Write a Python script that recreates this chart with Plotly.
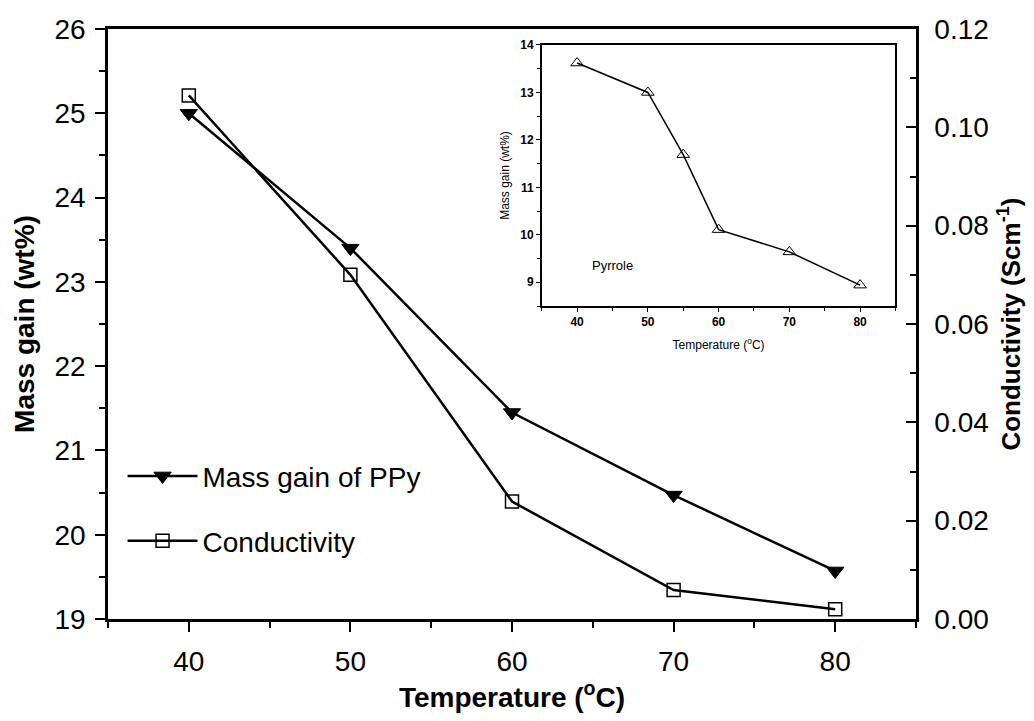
import plotly.graph_objects as go

temperature = [40, 50, 60, 70, 80]
mass_gain_ppy = [25.0, 23.4, 21.45, 20.47, 19.57]
conductivity = [0.1065, 0.070, 0.0239, 0.0059, 0.0020]

inset_temperature = [40, 50, 55, 60, 70, 80]
inset_mass_gain = [13.62, 13.0, 11.69, 10.11, 9.64, 8.94]

FONT = "Liberation Sans, Arial, sans-serif"

fig = go.Figure()

fig.add_trace(go.Scatter(
    x=temperature, y=mass_gain_ppy, mode="lines+markers",
    name="Mass gain of PPy",
    line=dict(color="black", width=2.5),
    marker=dict(symbol="triangle-down", size=15, color="black",
                line=dict(color="black", width=1)),
    xaxis="x", yaxis="y", legend="legend",
))
fig.add_trace(go.Scatter(
    x=temperature, y=conductivity, mode="lines+markers",
    name="Conductivity",
    line=dict(color="black", width=2.5),
    marker=dict(symbol="square-open", size=13, color="black",
                line=dict(color="black", width=1.5)),
    xaxis="x", yaxis="y2", legend="legend2",
))
fig.add_trace(go.Scatter(
    x=inset_temperature, y=inset_mass_gain, mode="lines+markers",
    name="Pyrrole", showlegend=False,
    line=dict(color="black", width=1.5),
    marker=dict(symbol="triangle-up-open", size=11, color="black",
                line=dict(color="black", width=1)),
    xaxis="x3", yaxis="y3",
))

main_font = dict(family=FONT, size=28, color="black")
title_font = dict(family=FONT, size=28, color="black", weight="bold")
right_title_font = dict(family=FONT, size=26, color="black", weight="bold")
inset_font = dict(family=FONT, size=12, color="black")
inset_tick_font = dict(family=FONT, size=12, color="black", weight="bold")

fig.update_layout(
    width=1034, height=721,
    margin=dict(l=108, r=118, t=29, b=102),
    paper_bgcolor="white", plot_bgcolor="white",
    font=main_font,
    xaxis=dict(
        range=[35, 85], dtick=10, tick0=40,
        showgrid=False, zeroline=False,
        showline=True, linecolor="black", linewidth=2.5, mirror=True,
        ticks="outside", ticklen=10, tickwidth=2, tickcolor="black",
        minor=dict(dtick=5, ticks="outside", ticklen=6, tickwidth=2, tickcolor="black"),
        tickfont=main_font, ticklabelstandoff=6,
        title=dict(text="Temperature (<sup>o</sup>C)", font=title_font, standoff=8),
    ),
    yaxis=dict(
        range=[19, 26], dtick=1,
        showgrid=False, zeroline=False,
        showline=True, linecolor="black", linewidth=2.5,
        ticks="outside", ticklen=10, tickwidth=2, tickcolor="black",
        minor=dict(dtick=0.5, ticks="outside", ticklen=6, tickwidth=2, tickcolor="black"),
        tickfont=main_font, ticklabelstandoff=4,
        title=dict(text="Mass gain (wt%)", font=title_font, standoff=12),
    ),
    yaxis2=dict(
        range=[0, 0.12], dtick=0.02, tickformat=".2f",
        overlaying="y", side="right", anchor="x",
        showgrid=False, zeroline=False,
        showline=True, linecolor="black", linewidth=2.5,
        ticks="inside", ticklen=10, tickwidth=2, tickcolor="black",
        minor=dict(dtick=0.01, ticks="inside", ticklen=6, tickwidth=2, tickcolor="black"),
        tickfont=main_font, ticklabelstandoff=10,
        title=dict(text="Conductivity (Scm<sup>-1</sup>)", font=right_title_font, standoff=14),
    ),
    xaxis3=dict(
        domain=[0.5368, 0.9746], anchor="y3",
        range=[35, 85], dtick=10, tick0=40,
        showgrid=False, zeroline=False,
        showline=True, linecolor="black", linewidth=1.5, mirror=True,
        ticks="outside", ticklen=4, tickwidth=1, tickcolor="black",
        minor=dict(dtick=5, ticks="outside", ticklen=3, tickwidth=1, tickcolor="black"),
        tickfont=inset_tick_font,
        title=dict(text="Temperature (<sup>o</sup>C)", font=inset_font, standoff=12),
    ),
    yaxis3=dict(
        domain=[0.5305, 0.9729], anchor="x3",
        range=[8.5, 14], dtick=1, tick0=9,
        showgrid=False, zeroline=False,
        showline=True, linecolor="black", linewidth=1.5, mirror=True,
        ticks="outside", ticklen=4, tickwidth=1, tickcolor="black",
        minor=dict(dtick=0.5, ticks="outside", ticklen=3, tickwidth=1, tickcolor="black"),
        tickfont=inset_tick_font,
        title=dict(text="Mass gain (wt%)", font=inset_font, standoff=8),
    ),
    legend=dict(
        x=0.018, y=0.242, xanchor="left", yanchor="middle",
        bgcolor="rgba(0,0,0,0)", borderwidth=0,
        font=main_font, itemwidth=70,
    ),
    legend2=dict(
        x=0.018, y=0.132, xanchor="left", yanchor="middle",
        bgcolor="rgba(0,0,0,0)", borderwidth=0,
        font=main_font, itemwidth=70,
    ),
    annotations=[
        dict(text="Pyrrole", x=45, y=9.36, xref="x3", yref="y3",
             showarrow=False, font=dict(family=FONT, size=13, color="black")),
    ],
)

fig.write_html("out.html")
